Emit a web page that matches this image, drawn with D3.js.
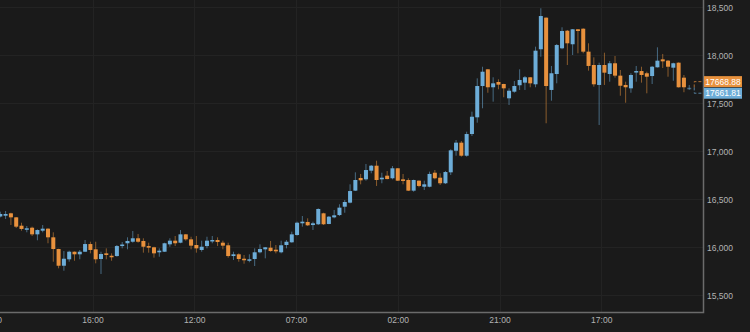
<!DOCTYPE html>
<html>
<head>
<meta charset="utf-8">
<script src="https://cdn.jsdelivr.net/npm/d3@7"></script>
<style>
  html, body { margin: 0; padding: 0; background: #1b1b1b; }
  svg { display: block; }
  text { font-family: "Liberation Sans", Arial, Helvetica, sans-serif; }
</style>
</head>
<body>
<svg id="chart" width="750" height="332"></svg>
<script>
// Hourly OHLC candles, oldest first
const opens = [
  16321, 16329, 16354, 16312, 16225, 16183, 16204, 16135, 16173, 16194,
  16104, 15982, 15808, 15875, 15954, 15927, 15954, 16034, 15979, 15878,
  15937, 15912, 15909, 16013, 16042, 16058, 16094, 16066, 16013, 16000,
  15948, 15954, 16031, 16069, 16048, 16135, 16083, 16024, 15972, 16013,
  16062, 16076, 16048, 16021, 15909, 15927, 15881, 15860, 15878, 15948,
  15979, 15996, 15975, 15948, 16024, 16052, 16128, 16250, 16264, 16232,
  16240, 16354, 16243, 16312, 16336, 16423, 16465, 16590, 16722, 16708,
  16798, 16850, 16708, 16746, 16719, 16823, 16708, 16701, 16590, 16694,
  16631, 16631, 16777, 16725, 16667, 16781, 17006, 17090, 16954, 17180,
  17354, 17680, 17854, 17667, 17722, 17701, 17552, 17621, 17688, 17715,
  17771, 17698, 18063, 18392, 17639, 17805, 18073, 18256, 18115, 18271,
  18277, 18038, 17899, 17691, 17899, 17805, 17917, 17788, 17691, 17656,
  17823, 17836, 17813, 17784, 17875, 17958, 17944, 17871, 17923, 17767,
  17650
];
const highs = [
  16371, 16378, 16360, 16315, 16256, 16222, 16215, 16187, 16232, 16198,
  16156, 15985, 15961, 15965, 15956, 15972, 16076, 16058, 16058, 15954,
  15989, 15937, 16024, 16055, 16104, 16170, 16139, 16094, 16048, 16006,
  15989, 16048, 16094, 16118, 16180, 16137, 16110, 16118, 16069, 16110,
  16118, 16104, 16069, 16048, 15954, 15937, 15920, 15927, 15989, 16031,
  16003, 16066, 16024, 16069, 16076, 16163, 16267, 16326, 16302, 16267,
  16406, 16360, 16326, 16389, 16448, 16493, 16656, 16781, 16764, 16868,
  16857, 16902, 16777, 16795, 16847, 16826, 16764, 16719, 16705, 16697,
  16694, 16788, 16805, 16771, 16795, 17021, 17118, 17107, 17204, 17413,
  17760, 17881, 17857, 17771, 17750, 17704, 17656, 17732, 17854, 17784,
  17774, 18090, 18490, 18395, 17889, 18118, 18292, 18264, 18274, 18274,
  18281, 18125, 17979, 17923, 18027, 17941, 17993, 17847, 17725, 17813,
  17889, 17881, 17829, 17889, 18083, 18014, 17951, 17923, 17926, 17795,
  17690
];
const lows = [
  16312, 16295, 16232, 16201, 16173, 16156, 16118, 16073, 16156, 16042,
  15850, 15781, 15756, 15850, 15860, 15875, 15952, 15937, 15833, 15722,
  15875, 15860, 15902, 15989, 15979, 16048, 16048, 15944, 15944, 15892,
  15902, 15952, 16006, 16013, 16042, 16069, 15979, 15944, 15954, 15989,
  16042, 16013, 15979, 15892, 15868, 15850, 15829, 15844, 15805, 15937,
  15885, 15954, 15937, 15937, 15989, 16048, 16121, 16215, 16222, 16180,
  16232, 16232, 16240, 16302, 16326, 16360, 16458, 16586, 16656, 16694,
  16771, 16639, 16667, 16708, 16708, 16691, 16656, 16586, 16579, 16625,
  16597, 16625, 16708, 16649, 16659, 16753, 16954, 16944, 16944, 17159,
  17298, 17448, 17610, 17517, 17646, 17563, 17482, 17610, 17639, 17639,
  17667, 17667, 17985, 17292, 17527, 17708, 18063, 17899, 18003, 18021,
  18021, 17840, 17673, 17274, 17691, 17725, 17767, 17579, 17506, 17610,
  17725, 17715, 17604, 17701, 17872, 17868, 17777, 17735, 17664, 17615,
  17640
];
const closes = [
  16347, 16347, 16312, 16215, 16191, 16198, 16135, 16180, 16194, 16104,
  15982, 15808, 15881, 15954, 15927, 15954, 16034, 15972, 15875, 15930,
  15920, 15896, 16013, 16029, 16066, 16094, 16058, 16006, 15996, 15937,
  15965, 16042, 16069, 16042, 16135, 16083, 16017, 15989, 16006, 16069,
  16076, 16055, 16017, 15909, 15927, 15878, 15865, 15875, 15948, 15982,
  16000, 15961, 15958, 16021, 16058, 16135, 16256, 16267, 16229, 16250,
  16399, 16240, 16319, 16333, 16413, 16472, 16586, 16701, 16698, 16805,
  16850, 16701, 16725, 16711, 16823, 16694, 16691, 16590, 16701, 16639,
  16656, 16764, 16719, 16667, 16784, 17010, 17090, 16954, 17180, 17360,
  17680, 17829, 17667, 17708, 17694, 17656, 17631, 17680, 17743, 17771,
  17708, 18048, 18409, 17680, 17813, 18107, 18253, 18125, 18271, 18253,
  18038, 17889, 17698, 17899, 17819, 17917, 17788, 17683, 17667, 17795,
  17836, 17795, 17777, 17881, 17944, 17937, 17881, 17917, 17667, 17667,
  17661.81
];

// Price axis ticks
const priceTicks = [15500, 16000, 16500, 17000, 17500, 18000, 18500];

// Time axis: labels and the candle index each one sits at
const timeLabels = ["21:00", "16:00", "12:00", "07:00", "02:00", "21:00", "17:00"];
const timeLabelAt = [-1.8, 17.4, 36.6, 55.8, 75.0, 94.2, 113.4];

// Live quotes shown on the price axis
const askPrice = 17668.88;
const bidPrice = 17661.81;

const W = 750, H = 332;
const plot = { left: 0, right: 703, top: 0, bottom: 312 };

const UP = "#6dadd8", DOWN = "#e8913d";
const AXIS_TEXT = "#b3b3b3";

const svg = d3.select("#chart");

const candles = opens.map((o, i) => ({
  i, open: o, high: highs[i], low: lows[i], close: closes[i]
}));

const x = d3.scaleLinear()
  .domain([-0.057, 132.6])
  .range([plot.left, plot.right]);

const y = d3.scaleLinear()
  .domain([15500, 18500])
  .range([295.3, 7.3]);

svg.append("rect")
  .attr("width", W).attr("height", H)
  .attr("fill", "#1b1b1b");

svg.append("rect")
  .attr("x", plot.left).attr("y", plot.top)
  .attr("width", plot.right - plot.left).attr("height", plot.bottom - plot.top)
  .attr("fill", "#1a1a1a");

// Grid
const grid = svg.append("g").attr("stroke", "#232323").attr("stroke-width", 1);
grid.selectAll("line.h").data(priceTicks).join("line")
  .attr("class", "h")
  .attr("x1", plot.left).attr("x2", plot.right)
  .attr("y1", d => Math.round(y(d)) + 0.5).attr("y2", d => Math.round(y(d)) + 0.5);
grid.selectAll("line.v").data(timeLabelAt).join("line")
  .attr("class", "v")
  .attr("x1", d => Math.round(x(d)) + 0.5).attr("x2", d => Math.round(x(d)) + 0.5)
  .attr("y1", plot.top).attr("y2", plot.bottom);

// Candles
const bodyW = 4;
const cg = svg.append("g");
const isUp = d => d.close >= d.open;

cg.selectAll("line.wick").data(candles).join("line")
  .attr("class", "wick")
  .attr("x1", d => x(d.i)).attr("x2", d => x(d.i))
  .attr("y1", d => y(d.high)).attr("y2", d => y(d.low))
  .attr("stroke", d => isUp(d) ? UP : DOWN)
  .attr("stroke-opacity", 0.55)
  .attr("stroke-width", 1);

cg.selectAll("rect.body").data(candles).join("rect")
  .attr("class", "body")
  .attr("x", d => x(d.i) - bodyW / 2)
  .attr("width", bodyW)
  .attr("y", d => y(Math.max(d.open, d.close)))
  .attr("height", d => Math.max(1.5, Math.abs(y(d.open) - y(d.close))))
  .attr("fill", d => isUp(d) ? UP : DOWN)
  .attr("fill-opacity", (d, i) => i === candles.length - 1 ? 0.5 : 1);

// Frame
svg.append("path")
  .attr("d", `M${plot.left},${plot.bottom + 0.5}H${plot.right + 0.5}V${plot.top}`)
  .attr("fill", "none")
  .attr("stroke", "#6b6b6b")
  .attr("stroke-width", 1.5);

// Price axis labels
const yAxis = d3.axisRight(y).tickValues(priceTicks).tickSize(0).tickPadding(4)
  .tickFormat(d3.format(","));
svg.append("g")
  .attr("transform", `translate(${plot.right},0)`)
  .call(yAxis)
  .call(g => g.select(".domain").remove())
  .call(g => g.selectAll("text")
    .attr("fill", AXIS_TEXT)
    .attr("font-size", 8.5)
    .attr("font-family", "Liberation Sans, Arial, sans-serif"));

// Time axis labels
const xAxis = d3.axisBottom(x).tickValues(timeLabelAt).tickSize(0).tickPadding(5)
  .tickFormat((d, k) => timeLabels[k]);
svg.append("g")
  .attr("transform", `translate(0,${plot.bottom})`)
  .call(xAxis)
  .call(g => g.select(".domain").remove())
  .call(g => g.selectAll("text")
    .attr("fill", AXIS_TEXT)
    .attr("font-size", 8.5)
    .attr("font-family", "Liberation Sans, Arial, sans-serif"));

// Quote markers: the two labels are pushed apart so they don't overlap
const boxH = 11;
const mid = (y(askPrice) + y(bidPrice)) / 2;
const askY = mid - boxH / 2 - 0.3;
const bidY = mid + boxH / 2 + 0.3;
const lastX = x(candles.length - 1) + 5;

svg.append("path")
  .attr("d", `M${lastX},${mid}V${askY}H${plot.right}`)
  .attr("fill", "none").attr("stroke", DOWN).attr("stroke-opacity", 0.7)
  .attr("stroke-dasharray", "3,2");
svg.append("path")
  .attr("d", `M${lastX},${mid}V${bidY}H${plot.right}`)
  .attr("fill", "none").attr("stroke", UP).attr("stroke-opacity", 0.7)
  .attr("stroke-dasharray", "3,2");

const quotes = [
  { value: askPrice, cy: askY, color: DOWN },
  { value: bidPrice, cy: bidY, color: UP }
];
const qg = svg.append("g").selectAll("g").data(quotes).join("g")
  .attr("transform", d => `translate(${plot.right + 1},${d.cy - boxH / 2})`);
qg.append("rect")
  .attr("width", 38).attr("height", boxH)
  .attr("fill", d => d.color);
qg.append("text")
  .attr("x", 19).attr("y", boxH / 2 + 3)
  .attr("text-anchor", "middle")
  .attr("font-size", 8.5)
  .attr("fill", "#ffffff")
  .text(d => d3.format(".2f")(d.value));
</script>
</body>
</html>
